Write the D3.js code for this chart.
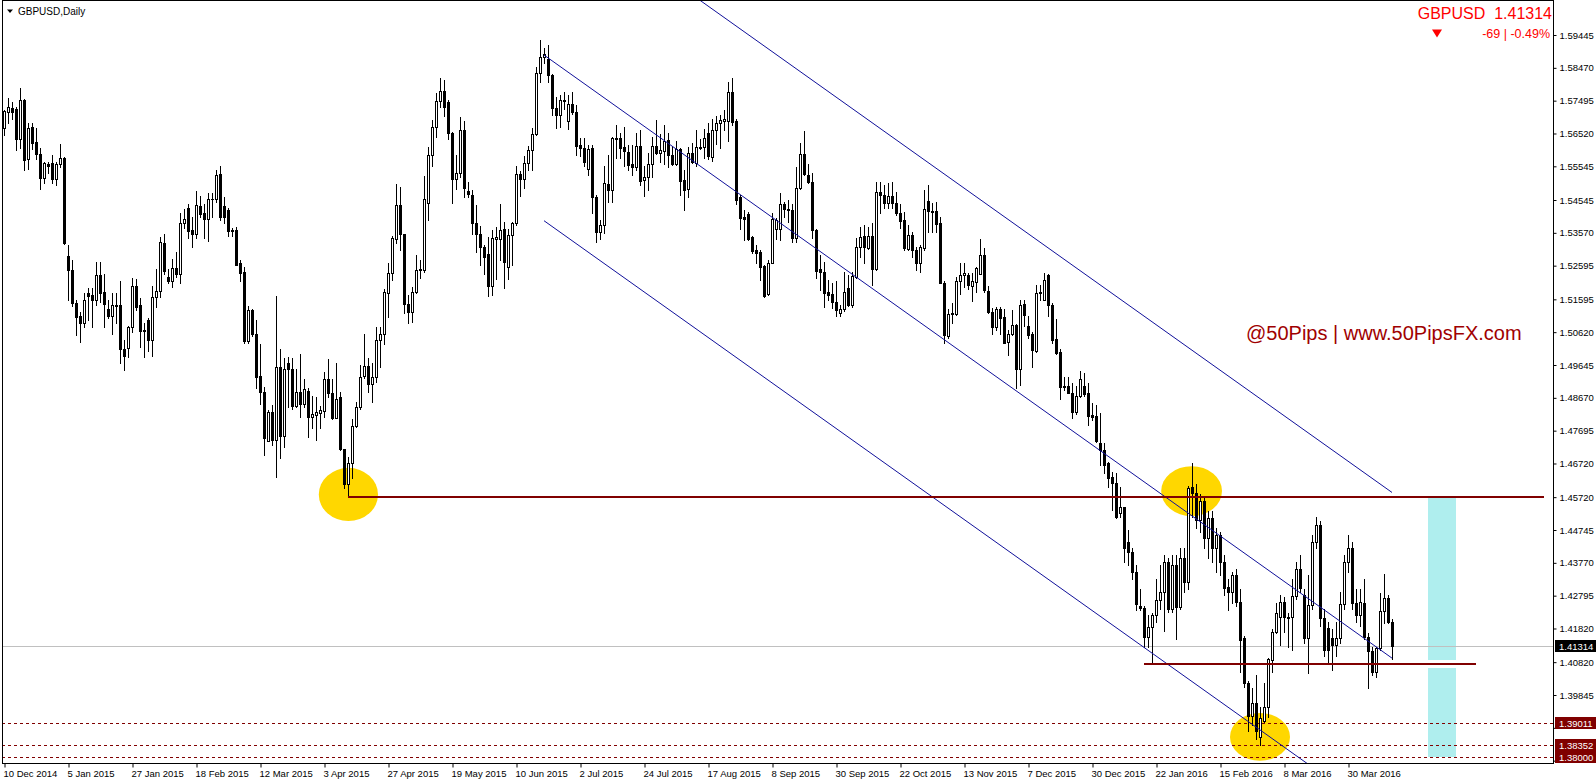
<!DOCTYPE html>
<html><head><meta charset="utf-8">
<script src="https://cdn.jsdelivr.net/npm/d3@7"></script>
<style>
html,body{margin:0;padding:0;background:#fff;overflow:hidden}
svg{display:block}
text{font-family:"Liberation Sans",Arial,sans-serif}
</style></head><body>
<svg id="c" width="1596" height="784"></svg>
<script>
// ---------------- data ----------------
const symbol = "GBPUSD";
const timeframe = "Daily";
const lastPrice = 1.41314;
const changePips = -69;
const changePct = -0.49;

const open = [
1.5667,1.5715,1.5729,1.5726,1.5637,1.5751,1.5575,1.5670,1.5626,1.5590,
1.5519,1.5560,1.5563,1.5516,1.5560,1.5578,1.5288,1.5246,1.5150,1.5110,
1.5088,1.5177,1.5172,1.5159,1.5231,1.5180,1.5130,1.5110,1.5144,1.5142,
1.5011,1.5014,1.5078,1.5199,1.5142,1.5068,1.5098,1.5040,1.5167,1.5184,
1.5326,1.5225,1.5215,1.5254,1.5236,1.5385,1.5430,1.5365,1.5353,1.5436,
1.5415,1.5397,1.5457,1.5456,1.5531,1.5438,1.5425,1.5365,1.5365,1.5268,
1.5240,1.5035,1.5129,1.5056,1.4932,1.4885,1.4738,1.4826,1.4743,1.4959,
1.4754,1.4971,1.4954,1.4842,1.4885,1.4850,1.4887,1.4811,1.4816,1.4823,
1.4829,1.4922,1.4882,1.4808,1.4868,1.4714,1.4610,1.4674,1.4783,1.4840,
1.4932,1.4961,1.4908,1.4928,1.5038,1.5058,1.5177,1.5239,1.5340,1.5439,
1.5353,1.5145,1.5121,1.5180,1.5248,1.5247,1.5445,1.5588,1.5670,1.5749,
1.5778,1.5747,1.5654,1.5516,1.5535,1.5662,1.5481,1.5469,1.5385,1.5355,
1.5315,1.5294,1.5199,1.5340,1.5340,1.5367,1.5256,1.5350,1.5387,1.5531,
1.5518,1.5563,1.5603,1.5650,1.5832,1.5878,1.5872,1.5825,1.5729,1.5707,
1.5748,1.5690,1.5739,1.5716,1.5617,1.5608,1.5548,1.5608,1.5464,1.5360,
1.5380,1.5502,1.5484,1.5637,1.5639,1.5613,1.5598,1.5561,1.5553,1.5614,
1.5514,1.5523,1.5561,1.5614,1.5595,1.5601,1.5634,1.5588,1.5561,1.5605,
1.5514,1.5486,1.5595,1.5565,1.5608,1.5611,1.5654,1.5583,1.5662,1.5682,
1.5690,1.5690,1.5776,1.5690,1.5464,1.5405,1.5413,1.5345,1.5306,1.5301,
1.5258,1.5175,1.5268,1.5367,1.5367,1.5442,1.5429,1.5426,1.5343,1.5489,
1.5591,1.5529,1.5507,1.5365,1.5249,1.5242,1.5182,1.5175,1.5153,1.5120,
1.5130,1.5192,1.5143,1.5227,1.5316,1.5348,1.5311,1.5348,1.5249,1.5479,
1.5469,1.5445,1.5466,1.5447,1.5417,1.5395,1.5308,1.5351,1.5306,1.5266,
1.5311,1.5453,1.5420,1.5422,1.5387,1.5209,1.5051,1.5115,1.5116,1.5215,
1.5232,1.5232,1.5199,1.5212,1.5236,1.5291,1.5185,1.5123,1.5078,1.5130,
1.5106,1.5034,1.5056,1.5083,1.4952,1.5146,1.5080,1.5058,1.5007,1.5179,
1.5159,1.5232,1.5143,1.5041,1.5004,1.4902,1.4902,1.4882,1.4826,1.4872,
1.4902,1.4880,1.4816,1.4813,1.4732,1.4712,1.4672,1.4631,1.4615,1.4524,
1.4542,1.4440,1.4410,1.4350,1.4249,1.4242,1.4156,1.4187,1.4222,1.4268,
1.4290,1.4380,1.4240,1.4370,1.4247,1.4390,1.4320,1.4601,1.4583,1.4505,
1.4560,1.4450,1.4510,1.4420,1.4460,1.4380,1.4306,1.4291,1.4340,1.4262,
1.4153,1.4019,1.3922,1.3960,1.3861,1.3908,1.3950,1.4088,1.4173,1.4215,
1.4262,1.4215,1.4215,1.4278,1.4360,1.4281,1.4153,1.4252,1.4440,1.4490,
1.4212,1.4182,1.4153,1.4133,1.4153,1.4255,1.4380,1.4420,1.4257,1.4222,
1.4257,1.4158,1.4116,1.4054,1.4123,1.4235,1.4272,1.4200];
const high = [
1.5722,1.5756,1.5746,1.5731,1.5786,1.5753,1.5682,1.5684,1.5667,1.5608,
1.5568,1.5568,1.5588,1.5568,1.5621,1.5581,1.5321,1.5276,1.5159,1.5123,
1.5177,1.5192,1.5192,1.5271,1.5271,1.5236,1.5157,1.5177,1.5177,1.5215,
1.5038,1.5080,1.5222,1.5220,1.5162,1.5088,1.5103,1.5199,1.5251,1.5345,
1.5353,1.5251,1.5278,1.5301,1.5415,1.5427,1.5442,1.5405,1.5481,1.5467,
1.5442,1.5476,1.5476,1.5543,1.5555,1.5462,1.5430,1.5370,1.5375,1.5276,
1.5256,1.5139,1.5132,1.5098,1.5028,1.4898,1.4831,1.4845,1.5169,1.5011,
1.4984,1.4989,1.4984,1.4954,1.4996,1.4923,1.4895,1.4872,1.4870,1.4842,
1.4944,1.4981,1.4923,1.4971,1.4885,1.4716,1.4690,1.4803,1.4855,1.4964,
1.5056,1.4984,1.4971,1.5078,1.5078,1.5189,1.5266,1.5347,1.5502,1.5494,
1.5355,1.5172,1.5197,1.5291,1.5276,1.5526,1.5611,1.5692,1.5773,1.5816,
1.5811,1.5750,1.5656,1.5588,1.5700,1.5690,1.5509,1.5484,1.5439,1.5377,
1.5320,1.5345,1.5365,1.5375,1.5444,1.5390,1.5367,1.5390,1.5555,1.5541,
1.5585,1.5614,1.5667,1.5848,1.5931,1.5905,1.5914,1.5830,1.5761,1.5766,
1.5776,1.5766,1.5776,1.5736,1.5640,1.5640,1.5617,1.5617,1.5469,1.5395,
1.5555,1.5588,1.5642,1.5677,1.5654,1.5672,1.5617,1.5617,1.5652,1.5662,
1.5555,1.5593,1.5642,1.5692,1.5650,1.5677,1.5654,1.5614,1.5630,1.5608,
1.5543,1.5613,1.5624,1.5662,1.5637,1.5664,1.5682,1.5694,1.5704,1.5707,
1.5721,1.5806,1.5818,1.5694,1.5469,1.5424,1.5419,1.5347,1.5320,1.5306,
1.5261,1.5276,1.5415,1.5400,1.5474,1.5449,1.5454,1.5444,1.5553,1.5625,
1.5660,1.5560,1.5534,1.5367,1.5291,1.5271,1.5217,1.5207,1.5215,1.5143,
1.5242,1.5232,1.5242,1.5341,1.5373,1.5380,1.5375,1.5387,1.5509,1.5509,
1.5499,1.5504,1.5509,1.5479,1.5443,1.5420,1.5380,1.5360,1.5316,1.5321,
1.5484,1.5499,1.5447,1.5450,1.5405,1.5215,1.5130,1.5148,1.5227,1.5268,
1.5266,1.5239,1.5239,1.5255,1.5338,1.5311,1.5199,1.5133,1.5136,1.5136,
1.5130,1.5068,1.5128,1.5086,1.5157,1.5157,1.5110,1.5063,1.5202,1.5202,
1.5239,1.5236,1.5148,1.5100,1.5011,1.4930,1.4930,1.4910,1.4902,1.4947,
1.4942,1.4910,1.4851,1.4846,1.4821,1.4732,1.4677,1.4648,1.4645,1.4603,
1.4544,1.4474,1.4420,1.4370,1.4300,1.4250,1.4222,1.4227,1.4330,1.4370,
1.4400,1.4390,1.4400,1.4400,1.4420,1.4420,1.4605,1.4672,1.4610,1.4580,
1.4575,1.4530,1.4530,1.4480,1.4470,1.4400,1.4330,1.4350,1.4360,1.4300,
1.4160,1.4025,1.4004,1.4044,1.3950,1.4021,1.4095,1.4180,1.4257,1.4281,
1.4276,1.4227,1.4330,1.4380,1.4400,1.4300,1.4340,1.4460,1.4512,1.4500,
1.4240,1.4200,1.4180,1.4200,1.4290,1.4400,1.4460,1.4440,1.4300,1.4300,
1.4330,1.4168,1.4128,1.4128,1.4287,1.4345,1.4281,1.4209];
const low = [
1.5647,1.5682,1.5694,1.5603,1.5608,1.5543,1.5548,1.5605,1.5575,1.5486,
1.5504,1.5535,1.5506,1.5499,1.5553,1.5324,1.5157,1.5139,1.5053,1.5033,
1.5078,1.5098,1.5078,1.5142,1.5152,1.5076,1.5103,1.5058,1.5088,1.4971,
1.4951,1.4987,1.5063,1.5127,1.5019,1.4989,1.5007,1.4991,1.5137,1.5165,
1.5236,1.5209,1.5195,1.5226,1.5209,1.5370,1.5343,1.5316,1.5343,1.5405,
1.5343,1.5333,1.5405,1.5449,1.5395,1.5385,1.5347,1.5347,1.5260,1.5215,
1.5030,1.5030,1.5052,1.4895,1.4850,1.4697,1.4738,1.4727,1.4633,1.4689,
1.4722,1.4840,1.4835,1.4839,1.4811,1.4840,1.4751,1.4776,1.4741,1.4776,
1.4811,1.4870,1.4803,1.4806,1.4712,1.4600,1.4572,1.4628,1.4781,1.4835,
1.4925,1.4885,1.4855,1.4915,1.4959,1.5028,1.5108,1.5217,1.5326,1.5306,
1.5118,1.5090,1.5093,1.5177,1.5222,1.5240,1.5395,1.5555,1.5643,1.5730,
1.5704,1.5637,1.5446,1.5488,1.5523,1.5464,1.5464,1.5355,1.5301,1.5261,
1.5236,1.5169,1.5172,1.5221,1.5276,1.5192,1.5221,1.5261,1.5380,1.5466,
1.5489,1.5543,1.5543,1.5647,1.5806,1.5860,1.5806,1.5707,1.5667,1.5672,
1.5726,1.5664,1.5711,1.5588,1.5585,1.5555,1.5528,1.5415,1.5330,1.5340,
1.5357,1.5449,1.5449,1.5578,1.5578,1.5555,1.5543,1.5528,1.5543,1.5499,
1.5466,1.5484,1.5523,1.5591,1.5568,1.5561,1.5553,1.5558,1.5558,1.5469,
1.5424,1.5464,1.5563,1.5555,1.5605,1.5578,1.5575,1.5571,1.5622,1.5608,
1.5662,1.5630,1.5677,1.5442,1.5367,1.5337,1.5337,1.5298,1.5266,1.5218,
1.5167,1.5172,1.5266,1.5340,1.5337,1.5405,1.5390,1.5330,1.5330,1.5486,
1.5529,1.5504,1.5341,1.5222,1.5187,1.5136,1.5157,1.5133,1.5110,1.5110,
1.5126,1.5140,1.5138,1.5222,1.5286,1.5266,1.5308,1.5202,1.5247,1.5415,
1.5430,1.5430,1.5430,1.5410,1.5370,1.5306,1.5306,1.5284,1.5247,1.5242,
1.5306,1.5360,1.5360,1.5360,1.5207,1.5029,1.5044,1.5090,1.5113,1.5175,
1.5197,1.5189,1.5155,1.5182,1.5234,1.5182,1.5118,1.5056,1.5068,1.5056,
1.5029,1.4994,1.5054,1.4895,1.4905,1.5080,1.5044,1.4960,1.5004,1.5157,
1.5157,1.5110,1.5029,1.4997,1.4865,1.4890,1.4880,1.4806,1.4819,1.4870,
1.4872,1.4786,1.4801,1.4737,1.4667,1.4643,1.4603,1.4534,1.4511,1.4514,
1.4380,1.4370,1.4330,1.4237,1.4237,1.4128,1.4128,1.4078,1.4200,1.4240,
1.4175,1.4232,1.4230,1.4150,1.4240,1.4290,1.4300,1.4514,1.4480,1.4470,
1.4420,1.4390,1.4380,1.4350,1.4340,1.4281,1.4237,1.4257,1.4250,1.4054,
1.4007,1.3879,1.3895,1.3853,1.3836,1.3905,1.3920,1.4054,1.4168,1.4133,
1.4173,1.4128,1.4118,1.4270,1.4290,1.4140,1.4051,1.4240,1.4420,1.4190,
1.4100,1.4080,1.4059,1.4100,1.4140,1.4240,1.4350,1.4240,1.4200,1.4190,
1.4150,1.4004,1.4044,1.4039,1.4118,1.4197,1.4197,1.4090];
const close = [
1.5720,1.5731,1.5717,1.5637,1.5751,1.5573,1.5667,1.5624,1.5590,1.5519,
1.5563,1.5556,1.5516,1.5560,1.5578,1.5326,1.5248,1.5149,1.5108,1.5088,
1.5159,1.5170,1.5159,1.5231,1.5177,1.5147,1.5110,1.5144,1.5140,1.5011,
1.4992,1.5078,1.5199,1.5137,1.5066,1.5065,1.5040,1.5167,1.5184,1.5330,
1.5244,1.5215,1.5254,1.5236,1.5385,1.5397,1.5363,1.5355,1.5439,1.5413,
1.5397,1.5456,1.5456,1.5528,1.5405,1.5405,1.5363,1.5363,1.5262,1.5238,
1.5035,1.5127,1.5056,1.4930,1.4885,1.4748,1.4826,1.4743,1.4959,1.4754,
1.4954,1.4954,1.4842,1.4885,1.4850,1.4892,1.4811,1.4818,1.4826,1.4831,
1.4922,1.4880,1.4808,1.4865,1.4714,1.4612,1.4674,1.4783,1.4840,1.4930,
1.4961,1.4908,1.4930,1.5038,1.5058,1.5180,1.5239,1.5342,1.5439,1.5353,
1.5147,1.5121,1.5180,1.5248,1.5251,1.5457,1.5588,1.5670,1.5749,1.5778,
1.5730,1.5654,1.5516,1.5535,1.5662,1.5489,1.5471,1.5385,1.5355,1.5315,
1.5284,1.5199,1.5343,1.5345,1.5365,1.5271,1.5350,1.5387,1.5531,1.5518,
1.5563,1.5603,1.5650,1.5832,1.5878,1.5888,1.5825,1.5729,1.5707,1.5751,
1.5751,1.5739,1.5716,1.5614,1.5608,1.5568,1.5605,1.5462,1.5360,1.5380,
1.5506,1.5484,1.5639,1.5639,1.5608,1.5601,1.5558,1.5553,1.5614,1.5512,
1.5523,1.5561,1.5614,1.5595,1.5603,1.5630,1.5588,1.5561,1.5605,1.5512,
1.5484,1.5593,1.5568,1.5611,1.5611,1.5640,1.5585,1.5662,1.5682,1.5692,
1.5694,1.5776,1.5687,1.5454,1.5400,1.5397,1.5340,1.5304,1.5298,1.5256,
1.5169,1.5268,1.5397,1.5395,1.5442,1.5429,1.5426,1.5343,1.5489,1.5591,
1.5532,1.5509,1.5365,1.5245,1.5242,1.5179,1.5172,1.5153,1.5128,1.5130,
1.5182,1.5143,1.5229,1.5316,1.5346,1.5316,1.5348,1.5249,1.5479,1.5469,
1.5445,1.5466,1.5445,1.5417,1.5393,1.5311,1.5351,1.5306,1.5266,1.5314,
1.5427,1.5423,1.5422,1.5383,1.5209,1.5054,1.5116,1.5118,1.5215,1.5232,
1.5239,1.5202,1.5214,1.5252,1.5291,1.5187,1.5123,1.5078,1.5130,1.5103,
1.5031,1.5056,1.5083,1.4952,1.5143,1.5113,1.5054,1.5009,1.5179,1.5182,
1.5217,1.5143,1.5039,1.5001,1.4898,1.4898,1.4882,1.4826,1.4872,1.4922,
1.4878,1.4813,1.4811,1.4740,1.4712,1.4667,1.4628,1.4615,1.4514,1.4542,
1.4420,1.4410,1.4350,1.4255,1.4242,1.4156,1.4187,1.4222,1.4268,1.4290,
1.4380,1.4240,1.4370,1.4247,1.4390,1.4320,1.4598,1.4583,1.4505,1.4560,
1.4450,1.4510,1.4420,1.4460,1.4380,1.4301,1.4291,1.4340,1.4262,1.4148,
1.4021,1.3922,1.3960,1.3879,1.3915,1.3950,1.4090,1.4173,1.4229,1.4262,
1.4215,1.4212,1.4278,1.4360,1.4301,1.4153,1.4252,1.4440,1.4490,1.4212,
1.4118,1.4118,1.4133,1.4153,1.4255,1.4380,1.4420,1.4257,1.4222,1.4262,
1.4158,1.4116,1.4054,1.4123,1.4235,1.4272,1.4202,1.41314];

const dateLabels = ["10 Dec 2014","5 Jan 2015","27 Jan 2015","18 Feb 2015","12 Mar 2015","3 Apr 2015",
"27 Apr 2015","19 May 2015","10 Jun 2015","2 Jul 2015","24 Jul 2015","17 Aug 2015","8 Sep 2015",
"30 Sep 2015","22 Oct 2015","13 Nov 2015","7 Dec 2015","30 Dec 2015","22 Jan 2016","15 Feb 2016",
"8 Mar 2016","30 Mar 2016"];
const barsPerDateLabel = 16;

const priceTicks = [1.59445,1.58470,1.57495,1.56520,1.55545,1.54545,1.53570,1.52595,1.51595,
1.50620,1.49645,1.48670,1.47695,1.46720,1.45720,1.44745,1.43770,1.42795,1.41820,1.40820,
1.39845,1.38870,1.37895];
// grid prices whose labels sit under the level boxes on the axis
const coveredTicks = [1.38870, 1.37895];

// channel: base line (bar, price) -> (bar, price), parallel offset in price
const channelBars = [135, 347];
const channelMid = [1.5885, 1.4094];
const channelOffset = 0.0492;

// horizontal support/resistance lines: price, from bar, to bar
const levelPrices = [1.4572, 1.4078];
const levelFrom = [86, 285];
const levelTo = [385, 368];

// dashed levels with axis boxes
const dashedLevels = [1.39011, 1.38352, 1.38000];

// highlight ellipses: centre bar, centre price, half width (bars), half height (price)
const ellipseBar = [86.1, 296.9, 314.0];
const ellipsePrice = [1.4580, 1.4590, 1.3860];
const ellipseHalfBars = [7.4, 7.6, 7.5];
const ellipseHalfPrice = [0.0079, 0.0074, 0.0071];

// projection boxes: bars & price ranges
const boxBars = [356.1, 363.0];
const boxTop = [1.4570, 1.4066];
const boxBottom = [1.4087, 1.3799];

const watermark = "@50Pips | www.50PipsFX.com";

// ---------------- drawing ----------------
const W = 1596, H = 784;
const plotRight = 1553, plotBottom = 763;
const svg = d3.select("#c");

const x = d3.scaleLinear().domain([0, 100]).range([4, 404]);
const y = d3.scaleLinear().domain([1.59445, 1.39845]).range([35, 695]);

svg.append("rect").attr("width", W).attr("height", H).attr("fill", "#fff");

const defs = svg.append("defs");
defs.append("clipPath").attr("id", "plot").append("rect")
  .attr("x", 2).attr("y", 0).attr("width", plotRight - 2).attr("height", plotBottom);

const plot = svg.append("g").attr("clip-path", "url(#plot)");

// cyan boxes
plot.selectAll("rect.box").data(boxTop).enter().append("rect")
  .attr("x", Math.round(x(boxBars[0])))
  .attr("width", Math.round(x(boxBars[1])) - Math.round(x(boxBars[0])))
  .attr("y", (d) => Math.round(y(d)))
  .attr("height", (d, i) => Math.round(y(boxBottom[i])) - Math.round(y(d)))
  .attr("fill", "#afeeee");

// ellipses
plot.selectAll("ellipse").data(ellipseBar).enter().append("ellipse")
  .attr("cx", (d) => x(d))
  .attr("cy", (d, i) => y(ellipsePrice[i]))
  .attr("rx", (d, i) => x(d + ellipseHalfBars[i]) - x(d))
  .attr("ry", (d, i) => y(ellipsePrice[i] - ellipseHalfPrice[i]) - y(ellipsePrice[i]))
  .attr("fill", "#ffd700");

// bid line
plot.append("line")
  .attr("x1", 2).attr("x2", plotRight)
  .attr("y1", Math.round(y(lastPrice)) + 0.5).attr("y2", Math.round(y(lastPrice)) + 0.5)
  .attr("stroke", "#c0c0c0").attr("stroke-width", 1);

// dashed levels
plot.selectAll("line.dash").data(dashedLevels).enter().append("line")
  .attr("x1", 2).attr("x2", plotRight)
  .attr("y1", (d) => Math.round(y(d)) + 0.5).attr("y2", (d) => Math.round(y(d)) + 0.5)
  .attr("stroke", "#800000").attr("stroke-width", 1).attr("stroke-dasharray", "3,3");

// candles
const cg = plot.append("g");
close.forEach((c, i) => {
  const o = open[i], h = high[i], l = low[i];
  const cx = Math.round(x(i));
  const yh = Math.round(y(h)), yl = Math.round(y(l));
  cg.append("rect").attr("x", cx).attr("y", yh).attr("width", 1)
    .attr("height", Math.max(1, yl - yh + 1)).attr("fill", "#000");
  const yo = Math.round(y(o)), yc = Math.round(y(c));
  const top = Math.min(yo, yc), bot = Math.max(yo, yc);
  if (bot - top < 1) {
    cg.append("rect").attr("x", cx - 1).attr("y", top).attr("width", 3).attr("height", 1).attr("fill", "#000");
  } else if (c >= o) {
    cg.append("rect").attr("x", cx - 0.5).attr("y", top + 0.5).attr("width", 2)
      .attr("height", bot - top).attr("fill", "#fff").attr("stroke", "#000").attr("stroke-width", 1);
  } else {
    cg.append("rect").attr("x", cx - 1).attr("y", top).attr("width", 3)
      .attr("height", bot - top + 1).attr("fill", "#000");
  }
});

// channel lines
[-1, 0, 1].forEach((k) => {
  plot.append("line")
    .attr("x1", x(channelBars[0])).attr("y1", y(channelMid[0] + k * channelOffset))
    .attr("x2", x(channelBars[1])).attr("y2", y(channelMid[1] + k * channelOffset))
    .attr("stroke", "#10109a").attr("stroke-width", 1);
});

// horizontal levels
plot.selectAll("line.lvl").data(levelPrices).enter().append("line")
  .attr("x1", (d, i) => x(levelFrom[i])).attr("x2", (d, i) => x(levelTo[i]))
  .attr("y1", (d) => Math.round(y(d))).attr("y2", (d) => Math.round(y(d)))
  .attr("stroke", "#800000").attr("stroke-width", 2);

// watermark
svg.append("text").attr("x", 1246).attr("y", 340).attr("font-size", 20)
  .attr("fill", "#a00000").text(watermark);

// frame
svg.append("rect").attr("x", 2.5).attr("y", 0.5).attr("width", plotRight - 2).attr("height", plotBottom)
  .attr("fill", "none").attr("stroke", "#000").attr("stroke-width", 1);

// price axis
const yAxis = d3.axisRight(y).tickValues(priceTicks).tickFormat(d3.format(".5f")).tickSize(3).tickPadding(3);
const ya = svg.append("g").attr("transform", `translate(${plotRight + 0.5},0)`).call(yAxis);
ya.select(".domain").remove();
ya.selectAll("text").attr("font-size", 9.5).attr("font-family", '"Liberation Sans",Arial,sans-serif').attr("fill", "#000");
ya.selectAll("line").attr("stroke", "#000");
ya.selectAll(".tick text").filter((d) => coveredTicks.includes(d)).remove();

// time axis
const tickBars = dateLabels.map((d, k) => k * barsPerDateLabel);
const xAxis = d3.axisBottom(x).tickValues(tickBars).tickFormat((d, k) => dateLabels[k]).tickSize(4).tickPadding(3);
const xa = svg.append("g").attr("transform", `translate(0.5,${plotBottom + 0.5})`).call(xAxis);
xa.select(".domain").remove();
xa.selectAll("text").attr("text-anchor", "start").attr("dx", -1.5).attr("font-size", 9.5)
  .attr("font-family", '"Liberation Sans",Arial,sans-serif').attr("fill", "#000");
xa.selectAll("line").attr("stroke", "#000");

// axis value boxes
function axisBox(price, fill, label) {
  const yy = Math.round(y(price));
  svg.append("rect").attr("x", plotRight + 2).attr("y", yy - 6).attr("width", W - plotRight - 2).attr("height", 12).attr("fill", fill);
  svg.append("text").attr("x", plotRight + 6).attr("y", yy + 3.5).attr("font-size", 9.5)
    .attr("fill", "#fff").text(label);
}
dashedLevels.forEach((p) => axisBox(p, "#800000", p.toFixed(5)));
axisBox(lastPrice, "#000", lastPrice.toFixed(5));

// top-left title
svg.append("path").attr("d", "M7,9.5 L13,9.5 L10,13 Z").attr("fill", "#000");
svg.append("text").attr("x", 18).attr("y", 15).attr("font-size", 10).attr("fill", "#000")
  .text(`${symbol},${timeframe}`);

// top-right quote
svg.append("text").attr("x", 1552).attr("y", 18.5).attr("font-size", 16).attr("fill", "#ff0000")
  .attr("text-anchor", "end").style("white-space", "pre").text(`${symbol}  ${lastPrice.toFixed(5)}`);
svg.append("text").attr("x", 1550).attr("y", 37.5).attr("font-size", 12.5).attr("fill", "#ff0000")
  .attr("text-anchor", "end").style("white-space", "pre")
  .text(`${changePips} | ${changePct.toFixed(2)}%`);
svg.append("path").attr("d", "M1432,29.5 L1442,29.5 L1437,37.5 Z").attr("fill", "#ff0000");
</script>
</body></html>
